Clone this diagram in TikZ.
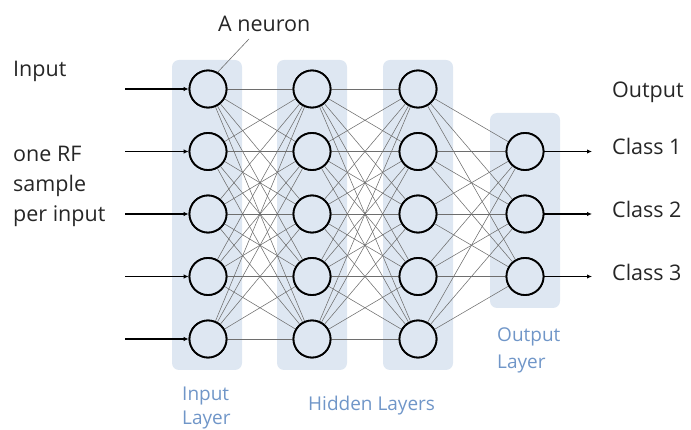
\documentclass[tikz,border=0pt]{standalone}
\usepackage{fontspec}
\setmainfont{Open Sans}
\usetikzlibrary{arrows.meta}
\definecolor{boxbg}{RGB}{222,231,242}
\definecolor{lbl}{RGB}{112,150,200}
\definecolor{conn}{RGB}{110,110,110}
\tikzset{
  neuron/.style={circle,draw=black,line width=1.8pt,fill=boxbg,minimum size=37pt,inner sep=0pt},
  layerbox/.style={fill=boxbg,draw=none,rounded corners=7pt},
  link/.style={draw=conn,line width=0.55pt},
  ioarrow/.style={draw=black,line width=1.2pt,-{Latex[length=5pt,width=4.5pt]}},
  blk/.style={anchor=base west,inner sep=0pt,font=\fontsize{21.5}{26}\selectfont,text=black!85},
  blu/.style={anchor=base west,inner sep=0pt,font=\fontsize{19}{23}\selectfont,text=lbl}
}
\begin{document}
\begin{tikzpicture}[x=1pt,y=-1pt]
\useasboundingbox (0,0) rectangle (691,430);
% layer boxes
\path[layerbox] (172,60) rectangle (242,370);
\path[layerbox] (277,60) rectangle (347,370);
\path[layerbox] (383,60) rectangle (453,370);
\path[layerbox] (490,113) rectangle (560,308);
% neurons
\foreach \i/\y in {1/89,2/151.5,3/214,4/276.5,5/339}{
  \node[neuron] (a\i) at (208,\y) {};
  \node[neuron] (b\i) at (312,\y) {};
  \node[neuron] (c\i) at (418,\y) {};
}
\foreach \i/\y in {1/151.5,2/214,3/276.5}{
  \node[neuron] (d\i) at (525,\y) {};
}
% connections
\foreach \i in {1,...,5}{
  \foreach \j in {1,...,5}{
    \draw[link] (a\i) -- (b\j);
    \draw[link] (b\i) -- (c\j);
  }
  \foreach \j in {1,2,3}{
    \draw[link] (c\i) -- (d\j);
  }
}
% redraw neurons on top of the connections
\foreach \i/\y in {1/89,2/151.5,3/214,4/276.5,5/339}{
  \node[neuron] at (208,\y) {};
  \node[neuron] at (312,\y) {};
  \node[neuron] at (418,\y) {};
}
\foreach \i/\y in {1/151.5,2/214,3/276.5}{
  \node[neuron] at (525,\y) {};
}
% input arrows
\foreach \i/\y in {1/89,2/151.5,3/214,4/276.5,5/339}{
  \coordinate (in\i) at (125,\y);
  \draw[ioarrow] (in\i) -- (a\i.west);
}
% output arrows
\foreach \i/\y in {1/151.5,2/214,3/276.5}{
  \coordinate (out\i) at (592,\y);
  \draw[ioarrow] (d\i.east) -- (out\i);
}
% texts
\node[blk] (tin) at (13,77) {Input};
\node[blk] (t1) at (13,162) {one RF};
\node[blk] (t2) at (13,192) {sample};
\node[blk] (t3) at (13,222) {per input};
\node[blk] (tneu) at (218,32) {A neuron};
\coordinate (neup) at (249,39);
\draw[draw=conn,line width=0.6pt] (neup) -- (a1.60);
\node[blk] (tout) at (612,98) {Output};
\node[blk] (c1t) at (612,155) {Class 1};
\node[blk] (c2t) at (612,218) {Class 2};
\node[blk] (c3t) at (612,281) {Class 3};
\node[blu] (l1) at (182,400) {Input};
\node[blu] (l2) at (182,424) {Layer};
\node[blu] (l3) at (308,410) {Hidden Layers};
\node[blu] (l4) at (497,342) {Output};
\node[blu] (l5) at (497,369) {Layer};
\end{tikzpicture}
\end{document}
